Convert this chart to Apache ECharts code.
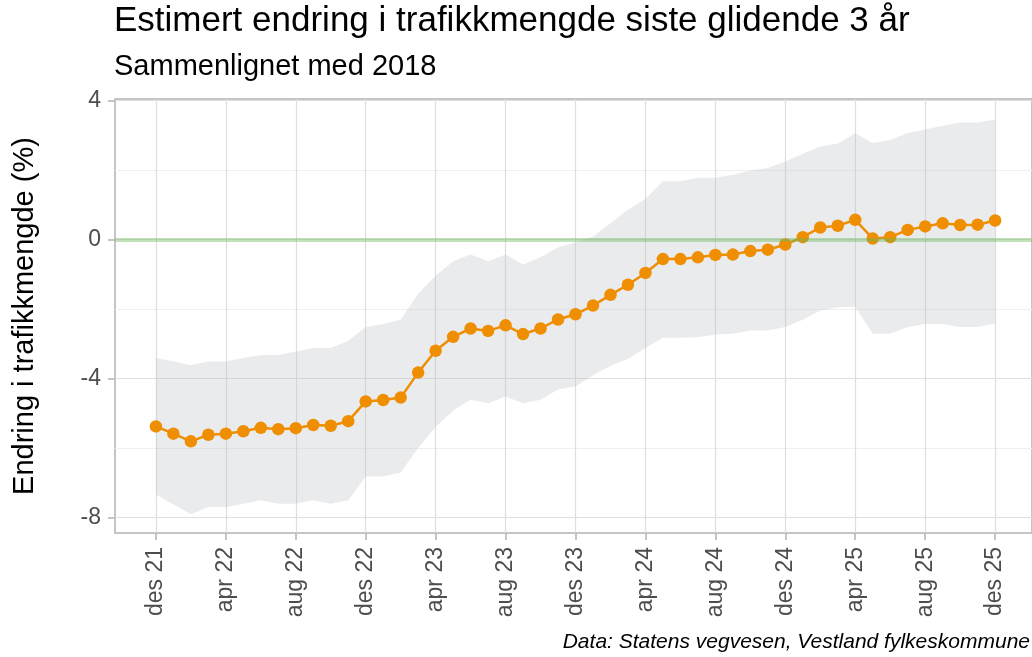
<!DOCTYPE html>
<html>
<head>
<meta charset="utf-8">
<script src="https://cdn.jsdelivr.net/npm/echarts@6/dist/echarts.min.js"></script>
<style>
html,body{margin:0;padding:0;background:#fff;}
#chart{width:1032px;height:657px;}
</style>
</head>
<body>
<div id="chart"></div>
<script>
// Month index 0 = des 21 ... 48 = des 25
const titleText = "Estimert endring i trafikkmengde siste glidende 3 år";
const subtitleText = "Sammenlignet med 2018";
const yAxisTitle = "Endring i trafikkmengde (%)";
const captionText = "Data: Statens vegvesen, Vestland fylkeskommune";

const xTickValues = [0, 4, 8, 12, 16, 20, 24, 28, 32, 36, 40, 44, 48];
const xTickLabels = ["des 21","apr 22","aug 22","des 22","apr 23","aug 23","des 23","apr 24","aug 24","des 24","apr 25","aug 25","des 25"];
const yTickValues = [-8, -4, 0, 4];
const yMinorValues = [-6, -2, 2];

const estimate = [-5.38,-5.59,-5.81,-5.62,-5.59,-5.52,-5.42,-5.46,-5.43,-5.34,-5.36,-5.23,
  -4.66,-4.62,-4.55,-3.83,-3.20,-2.80,-2.56,-2.63,-2.47,-2.72,-2.56,-2.30,
  -2.15,-1.90,-1.59,-1.30,-0.96,-0.56,-0.56,-0.51,-0.44,-0.43,-0.33,-0.29,
  -0.14,0.07,0.35,0.40,0.57,0.03,0.07,0.28,0.38,0.47,0.42,0.43,0.55];
const upper = [-3.41,-3.50,-3.62,-3.51,-3.51,-3.41,-3.32,-3.32,-3.22,-3.12,-3.12,-2.91,
  -2.52,-2.43,-2.31,-1.56,-1.04,-0.62,-0.43,-0.62,-0.43,-0.72,-0.51,-0.22,
  -0.08,0.09,0.47,0.86,1.17,1.68,1.68,1.78,1.78,1.87,1.99,2.06,
  2.25,2.47,2.68,2.77,3.06,2.78,2.87,3.07,3.17,3.28,3.37,3.37,3.46];
const lower = [-7.34,-7.63,-7.91,-7.70,-7.70,-7.61,-7.51,-7.61,-7.61,-7.51,-7.61,-7.51,
  -6.82,-6.82,-6.71,-6.00,-5.40,-4.92,-4.61,-4.71,-4.52,-4.71,-4.61,-4.32,
  -4.22,-3.91,-3.63,-3.43,-3.12,-2.83,-2.83,-2.81,-2.73,-2.71,-2.62,-2.62,
  -2.52,-2.31,-2.04,-1.95,-1.93,-2.71,-2.71,-2.52,-2.43,-2.43,-2.52,-2.52,-2.41];

const FONT = "'Liberation Sans', Arial, sans-serif";
const chart = echarts.init(document.getElementById('chart'), null, {renderer: 'canvas'});

const linePoints = estimate.map((v, i) => [i, v]);

const option = {
  backgroundColor: '#ffffff',
  animation: false,
  title: [
    {text: titleText, left: 114, top: 4, padding: 0,
     textStyle: {fontFamily: FONT, fontSize: 35, fontWeight: 'normal', color: '#000'}},
    {text: subtitleText, left: 114, top: 52, padding: 0,
     textStyle: {fontFamily: FONT, fontSize: 29, fontWeight: 'normal', color: '#000'}}
  ],
  graphic: [
    {type: 'text', right: 2, top: 632,
     style: {text: captionText, font: 'italic 21px ' + FONT, fill: '#000'}}
  ],
  grid: {left: 115, top: 99, right: -2, bottom: 124, show: true,
         borderColor: '#b3b3b3', borderWidth: 1.5, backgroundColor: 'transparent'},
  xAxis: {
    type: 'value', min: -2.34, max: 50.11,
    axisLine: {show: false, onZero: false},
    axisTick: {show: true, length: 7, lineStyle: {color: '#b3b3b3', width: 1.5}, customValues: xTickValues},
    axisLabel: {show: true, rotate: 90, margin: 14, customValues: xTickValues,
      fontFamily: FONT, fontSize: 23, color: '#4d4d4d',
      formatter: v => xTickLabels[xTickValues.indexOf(Math.round(v))] || ''},
    splitLine: {show: true, lineStyle: {color: '#dedede', width: 1.2}}
  },
  yAxis: [
    {
      type: 'value', min: -8.45, max: 4.05,
      name: yAxisTitle, nameLocation: 'middle', nameGap: 76,
      nameTextStyle: {fontFamily: FONT, fontSize: 29, color: '#000'},
      axisLine: {show: false, onZero: false},
      axisTick: {show: true, length: 7, lineStyle: {color: '#b3b3b3', width: 1.5}, customValues: yTickValues},
      axisLabel: {show: true, margin: 14, customValues: yTickValues,
        fontFamily: FONT, fontSize: 23, color: '#4d4d4d'},
      splitLine: {show: true, lineStyle: {color: '#dedede', width: 1.2}}
    },
    {
      type: 'value', min: -8.45, max: 4.05, position: 'left', offset: 0,
      axisLine: {show: false, onZero: false},
      axisTick: {show: false, customValues: yMinorValues},
      axisLabel: {show: false, customValues: yMinorValues},
      splitLine: {show: true, lineStyle: {color: '#efefef', width: 1}}
    }
  ],
  series: [
    {
      type: 'custom', z: 1, silent: true,
      data: [0],
      renderItem: function (params, api) {
        const pts = [];
        for (let i = 0; i < upper.length; i++) pts.push(api.coord([i, upper[i]]));
        for (let i = lower.length - 1; i >= 0; i--) pts.push(api.coord([i, lower[i]]));
        return {type: 'polygon', shape: {points: pts},
                style: {fill: 'rgba(190,194,200,0.32)', stroke: 'none'}};
      },
      markLine: {
        silent: true, symbol: 'none', label: {show: false},
        lineStyle: {color: 'rgba(110,185,90,0.42)', width: 4, type: 'solid'},
        data: [{yAxis: 0}]
      }
    },
    {
      type: 'line', z: 3,
      data: linePoints,
      symbol: 'circle', symbolSize: 12.5,
      lineStyle: {color: '#ee8e00', width: 2.5},
      itemStyle: {color: '#ee8e00'}
    }
  ]
};
chart.setOption(option);
</script>
</body>
</html>
